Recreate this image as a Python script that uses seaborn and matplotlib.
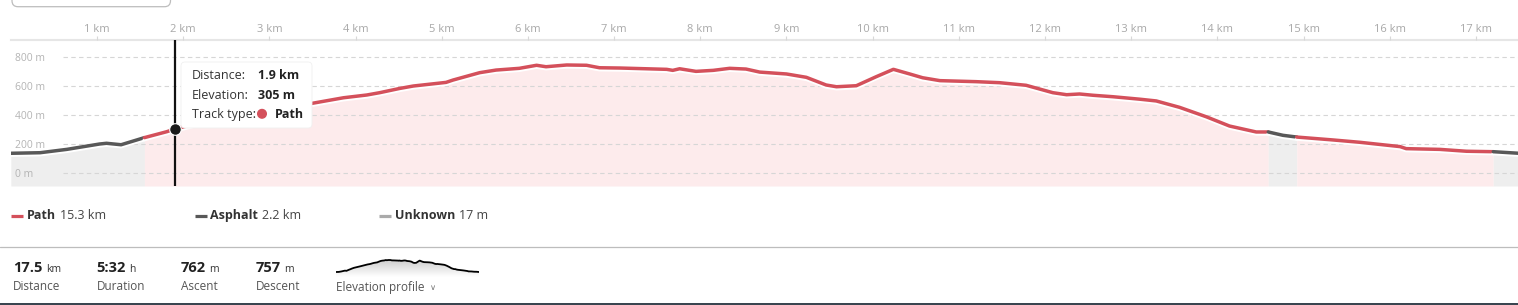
import numpy as np
import pandas as pd
import matplotlib
matplotlib.use("Agg")
import matplotlib.pyplot as plt
import seaborn as sns
from matplotlib.patches import FancyBboxPatch, Circle, Rectangle
from matplotlib.colors import LinearSegmentedColormap
import matplotlib.patheffects as pe

# ---------------- data ----------------
distance_km = [0.00, 0.34, 0.65, 1.03, 1.11, 1.28, 1.55, 1.81, 1.90, 2.20, 2.60, 3.00,
               3.50, 3.86, 4.13, 4.28, 4.51, 4.67, 5.05, 5.13, 5.44, 5.63, 5.90, 6.10,
               6.21, 6.45, 6.68, 6.83, 7.07, 7.37, 7.61, 7.68, 7.76, 7.95, 8.15, 8.34,
               8.53, 8.69, 9.00, 9.23, 9.46, 9.58, 9.81, 10.04, 10.24, 10.43, 10.58,
               10.78, 11.20, 11.47, 11.78, 12.09, 12.25, 12.40, 12.56, 12.79, 13.10,
               13.29, 13.56, 13.87, 14.14, 14.45, 14.59, 14.76, 14.92, 15.34, 15.65,
               16.12, 16.19, 16.58, 16.89, 17.20, 17.50]
elevation_m = [138, 142, 165, 202, 207, 197, 246, 287, 305, 350, 390, 430,
               483, 521, 540, 556, 585, 602, 627, 643, 694, 712, 724, 745,
               735, 747, 745, 728, 726, 721, 717, 710, 721, 703, 710, 724,
               719, 698, 685, 662, 609, 597, 604, 666, 717, 685, 659,
               639, 632, 625, 607, 556, 542, 547, 538, 528, 511,
               499, 455, 390, 326, 285, 285, 262, 250, 230, 214,
               184, 170, 165, 152, 149, 138]

segment_start_km = [0.00, 1.55, 14.59, 14.92, 17.20]
segment_end_km = [1.55, 14.59, 14.92, 17.20, 17.50]
segment_type = ["Asphalt", "Path", "Asphalt", "Path", "Asphalt"]

x_ticks_km = list(range(1, 18))
x_tick_labels = [f"{k} km" for k in x_ticks_km]
y_ticks_m = [0, 200, 400, 600, 800]
y_tick_labels = [f"{v} m" for v in y_ticks_m]

hover_km = 1.9
hover_elev_m = 305
hover_type = "Path"

legend_types = ["Path", "Asphalt", "Unknown"]
legend_lengths = ["15.3 km", "2.2 km", "17 m"]

stat_values = ["17.5", "5:32", "762", "757"]
stat_units = ["km", "h", "m", "m"]
stat_labels = ["Distance", "Duration", "Ascent", "Descent"]

# ---------------- style ----------------
sns.set_theme(style="white")
plt.rcParams["font.family"] = ["Open Sans", "DejaVu Sans"]

line_colors = {"Path": "#d4505b", "Asphalt": "#585858", "Unknown": "#aaaaaa"}
fill_colors = {"Path": "#fdebec", "Asphalt": "#eeeeee", "Unknown": "#f4f4f4"}

W, H = 1518, 305
fig = plt.figure(figsize=(W / 100, H / 100), dpi=100)
fig.patch.set_facecolor("white")

# main axes (pixel geometry of the reference)
ax_left, ax_right, ax_top, ax_bot = 10.8, 1519.1, 39.5, 186.0
ax = fig.add_axes([ax_left / W, 1 - ax_bot / H, (ax_right - ax_left) / W, (ax_bot - ax_top) / H])
ax.set_axisbelow(False)
ybot, ytop = -87.6, 922.8

df = pd.DataFrame({"km": distance_km, "elev": elevation_m})

for s, e, t in zip(segment_start_km, segment_end_km, segment_type):
    seg = df[(df.km >= s - 1e-9) & (df.km <= e + 1e-9)]
    ax.fill_between(seg.km, seg.elev, ybot, color=fill_colors[t], lw=0, zorder=1)

grid_start = (63 - ax_left) / (ax_right - ax_left)
for v in y_ticks_m:
    ax.axhline(v, xmin=grid_start, xmax=1, color="#d6d6d6", lw=0.8, ls=(0, (4, 3)), zorder=2)

for s, e, t in zip(segment_start_km, segment_end_km, segment_type):
    seg = df[(df.km >= s - 1e-9) & (df.km <= e + 1e-9)]
    sns.lineplot(data=seg, x="km", y="elev", ax=ax, color=line_colors[t], lw=2.5,
                 zorder=4, solid_capstyle="round", solid_joinstyle="round",
                 path_effects=[pe.SimpleLineShadow(offset=(0, -1.4), shadow_color="white",
                                                   alpha=1.0),
                               pe.Normal()])

ax.axvline(hover_km, color="#111111", lw=1.6, zorder=5)
ax.scatter([hover_km], [hover_elev_m], s=70, color="#1a1a1a", edgecolor="white",
           linewidth=0.8, zorder=6)

ax.set_xlim(0, 17.5)
ax.set_ylim(ybot, ytop)
ax.set_xlabel("")
ax.set_ylabel("")
ax.grid(False)
ax.set_facecolor("none")

ax.xaxis.tick_top()
ax.set_xticks(x_ticks_km)
ax.set_xticklabels(x_tick_labels)
ax.tick_params(axis="x", which="both", top=True, bottom=False, length=3, width=0.8,
               color="#d8d8d8", pad=0, labelsize=8, labelcolor="#a8a8a8")
ax.set_yticks(y_ticks_m)
ax.set_yticklabels(y_tick_labels)
ax.tick_params(axis="y", left=True, length=0, pad=-3, labelsize=7.5, labelcolor="#b4b4b4")
for lab in ax.get_yticklabels():
    lab.set_horizontalalignment("left")
for sp in ["left", "right", "bottom"]:
    ax.spines[sp].set_visible(False)
ax.spines["top"].set_visible(True)
ax.spines["top"].set_color("#e6e6e6")
ax.spines["top"].set_linewidth(1.5)

# mini elevation profile
ax2 = fig.add_axes([336 / W, 1 - 277 / H, 143 / W, 20 / H])
sb, st = -116, 899
sns.lineplot(data=df, x="km", y="elev", ax=ax2, color="black", lw=1.3, zorder=3)
poly = ax2.fill_between(df.km, df.elev, sb, color="none", lw=0)
cmap = LinearSegmentedColormap.from_list("g", ["#ffffff", "#c4c4c4"])
grad = np.linspace(0, 1, 64).reshape(-1, 1)
im = ax2.imshow(grad, extent=[0, 17.5, sb, st], origin="lower", aspect="auto",
                cmap=cmap, zorder=1)
im.set_clip_path(poly.get_paths()[0], transform=ax2.transData)
ax2.set_xlim(0, 17.5)
ax2.set_ylim(sb, st)
ax2.axis("off")

# overlay in pixel coordinates for chrome
ov = fig.add_axes([0, 0, 1, 1])
ov.set_xlim(0, W)
ov.set_ylim(H, 0)
ov.axis("off")
ov.set_zorder(10)

# button outline top-left
ov.add_patch(FancyBboxPatch((12, -20), 158.5, 26.7,
                            boxstyle="round,pad=0,rounding_size=6",
                            fc="none", ec="#bdbdbd", lw=0.9))

# tooltip
ov.add_patch(FancyBboxPatch((181, 62), 131, 66, boxstyle="round,pad=0,rounding_size=4",
                            fc="white", ec="#f0f0f0", lw=0.6))
rows_y = [79.3, 98.7, 118.3]
ov.text(191.5, rows_y[0], "Distance:", fontsize=9, color="#333333", va="baseline")
ov.text(257.7, rows_y[0], f"{hover_km} km", fontsize=9, color="#222222",
        fontweight="bold", va="baseline")
ov.text(191.5, rows_y[1], "Elevation:", fontsize=9, color="#333333", va="baseline")
ov.text(257.7, rows_y[1], f"{hover_elev_m} m", fontsize=9, color="#222222",
        fontweight="bold", va="baseline")
ov.text(191.5, rows_y[2], "Track type:", fontsize=9, color="#333333", va="baseline")
ov.add_patch(Circle((262, 113.8), 4.3, color=line_colors[hover_type]))
ov.text(275, rows_y[2], hover_type, fontsize=9, color="#222222",
        fontweight="bold", va="baseline")

fig.canvas.draw()
renderer = fig.canvas.get_renderer()

# legend
leg_x = [11, 195, 379]
for x0, t, ln in zip(leg_x, legend_types, legend_lengths):
    ov.plot([x0, x0 + 12], [215.7, 215.7], color=line_colors[t], lw=2.3,
            solid_capstyle="butt")
    tb = ov.text(x0 + 15.5, 219, t, fontsize=9, fontweight="bold", color="#333333",
                 va="baseline")
    bb = tb.get_window_extent(renderer)
    ov.text(bb.x1 + 4, 219, ln, fontsize=9, color="#444444", va="baseline")

# separator
ov.plot([0, W], [247.3, 247.3], color="#bdbdbd", lw=0.9)

# stats
stat_x = [13.3, 96.7, 181, 256]
for x0, v, u, lab in zip(stat_x, stat_values, stat_units, stat_labels):
    tv = ov.text(x0, 271.7, v, fontsize=10.5, fontweight="bold", color="#222222",
                 va="baseline")
    bb = tv.get_window_extent(renderer)
    ov.text(bb.x1 + 3, 271.7, u, fontsize=7.5, color="#333333", va="baseline")
    ov.text(x0, 290.5, lab, fontsize=8.5, color="#555555", va="baseline")

tp = ov.text(336, 291, "Elevation profile", fontsize=8.5, color="#555555", va="baseline")
bb = tp.get_window_extent(renderer)
ov.text(bb.x1 + 5, 290, "\u2228", fontsize=6, color="#777777", va="baseline",
        family=["DejaVu Sans"])

# bottom dark edge of screenshot
ov.add_patch(Rectangle((0, 303), W, 2.5, color="#3a4550", lw=0))

fig.savefig("out.png", dpi=100, facecolor="white")
